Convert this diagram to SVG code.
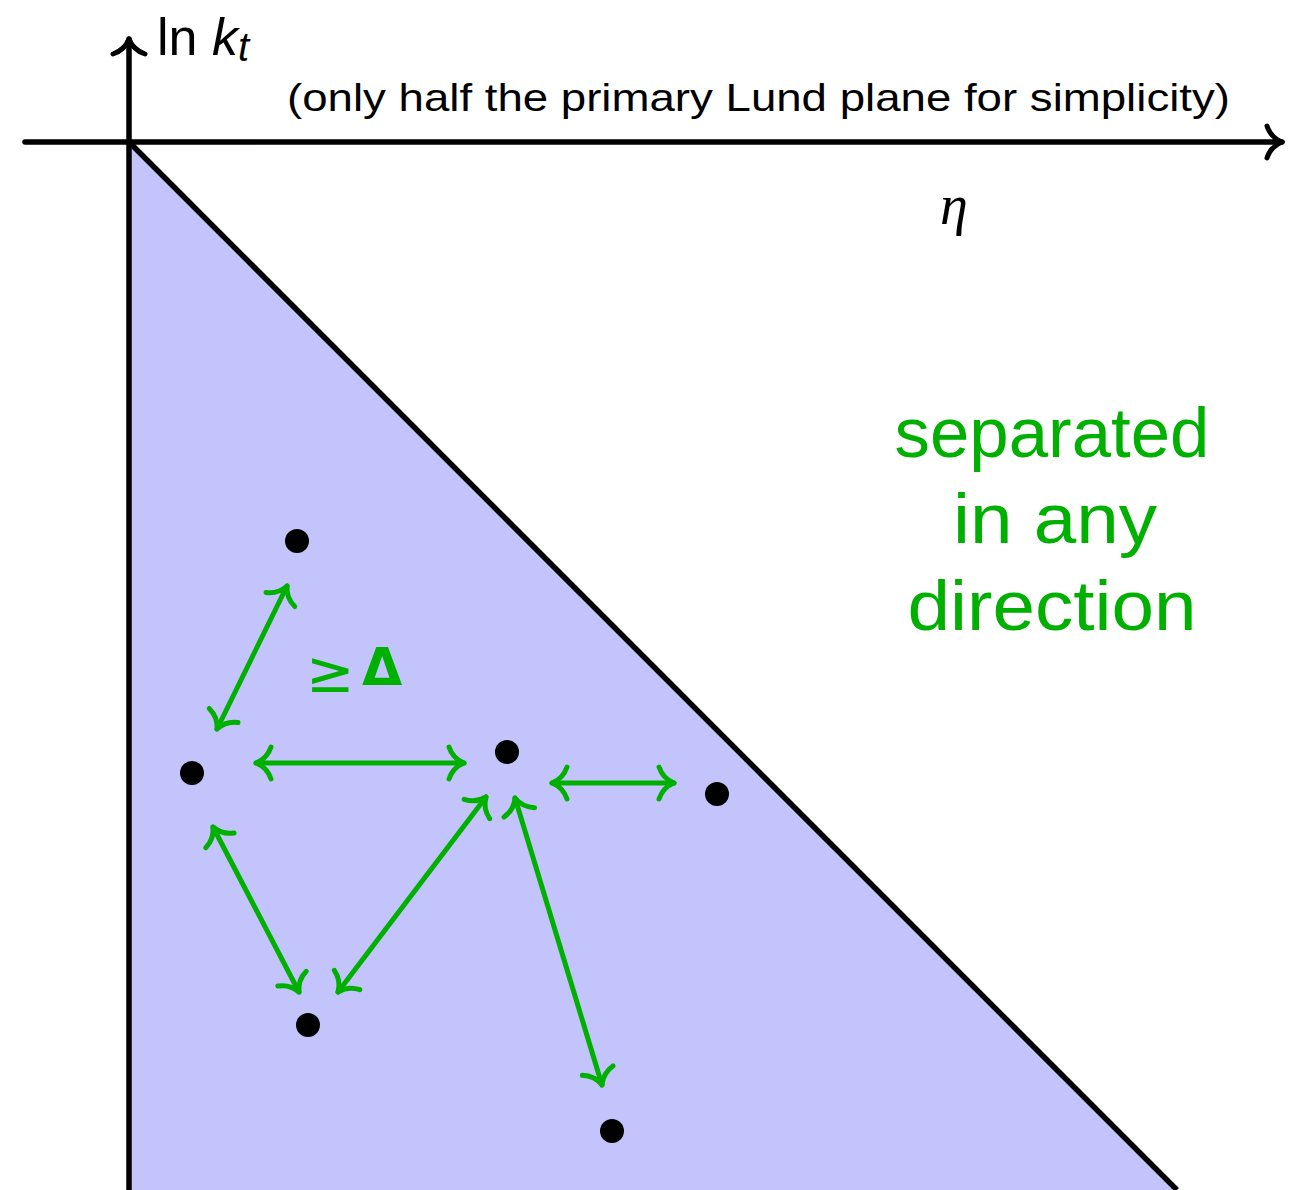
<svg xmlns="http://www.w3.org/2000/svg" width="1297" height="1190" viewBox="0 0 1297 1190">
<defs>
<style>
.ax{stroke:#000;stroke-width:5.5;fill:none;stroke-linecap:round}
.gr{stroke:#00b000;stroke-width:5;fill:none;stroke-linecap:round;marker-start:url(#ga);marker-end:url(#ga)}
.dot{fill:#000}
.sans{font-family:"Liberation Sans","DejaVu Sans",sans-serif}
.gt{fill:#00b000;font-family:"Liberation Sans","DejaVu Sans",sans-serif;font-size:71px;text-anchor:middle}
</style>
<marker id="ga" markerUnits="userSpaceOnUse" viewBox="-20 -20 24 40" refX="0" refY="0" markerWidth="24" markerHeight="40" orient="auto-start-reverse">
<path d="M -15,-16 C -12,-7 -5,-2 0,0 C -5,2 -12,7 -15,16" fill="none" stroke="#00b000" stroke-width="5" stroke-linecap="round" stroke-linejoin="round"/>
</marker>
<marker id="ka" markerUnits="userSpaceOnUse" viewBox="-20 -20 24 40" refX="0" refY="0" markerWidth="24" markerHeight="40" orient="auto">
<path d="M -15,-16 C -12,-7 -5,-2 0,0 C -5,2 -12,7 -15,16" fill="none" stroke="#000" stroke-width="5" stroke-linecap="round" stroke-linejoin="round"/>
</marker>
</defs>
<rect width="1297" height="1190" fill="#fff"/>
<g id="region">
<polygon points="129,142 1177,1190 129,1190" fill="#c4c4fc"/>
<line x1="129" y1="142" x2="1177" y2="1190" stroke="#000" stroke-width="5.5"/>
</g>
<g id="axes">
<line class="ax" x1="25" y1="142" x2="1282" y2="142" marker-end="url(#ka)"/>
<line class="ax" x1="129" y1="1192" x2="129" y2="39" marker-end="url(#ka)"/>
<text class="sans" x="157" y="55" font-size="52">ln <tspan font-style="italic">k</tspan><tspan font-style="italic" font-size="40" dy="6">t</tspan></text>
<text x="954" y="224" font-family="'Liberation Serif','DejaVu Serif',serif" font-style="italic" font-size="56" text-anchor="middle">η</text>
<text class="sans" x="287" y="111" font-size="39" textLength="943" lengthAdjust="spacingAndGlyphs">(only half the primary Lund plane for simplicity)</text>
</g>
<g id="points">
<circle class="dot" cx="297" cy="541" r="12"/>
<circle class="dot" cx="192" cy="773" r="12"/>
<circle class="dot" cx="507" cy="752" r="12"/>
<circle class="dot" cx="717" cy="794" r="12"/>
<circle class="dot" cx="308" cy="1025" r="12"/>
<circle class="dot" cx="612" cy="1131" r="12"/>
</g>
<g id="connectors">
<line class="gr" x1="217" y1="729" x2="287" y2="586"/>
<line class="gr" x1="256" y1="763" x2="464" y2="763"/>
<line class="gr" x1="552" y1="783" x2="674" y2="783"/>
<line class="gr" x1="213" y1="827" x2="299" y2="992"/>
<line class="gr" x1="486" y1="797" x2="338" y2="992"/>
<line class="gr" x1="515" y1="798" x2="602" y2="1085"/>
</g>
<g id="labels">
<text x="306" y="692" fill="#00b000" font-family="'DejaVu Sans',sans-serif" font-size="58">≥</text>
<text x="362" y="685" fill="#00b000" font-family="'DejaVu Sans',sans-serif" font-weight="bold" font-size="52">Δ</text>
<text class="gt" x="1052" y="457" textLength="315" lengthAdjust="spacingAndGlyphs">separated</text>
<text class="gt" x="1055" y="543" textLength="204" lengthAdjust="spacingAndGlyphs">in any</text>
<text class="gt" x="1052" y="630" textLength="289" lengthAdjust="spacingAndGlyphs">direction</text>
</g>
</svg>
